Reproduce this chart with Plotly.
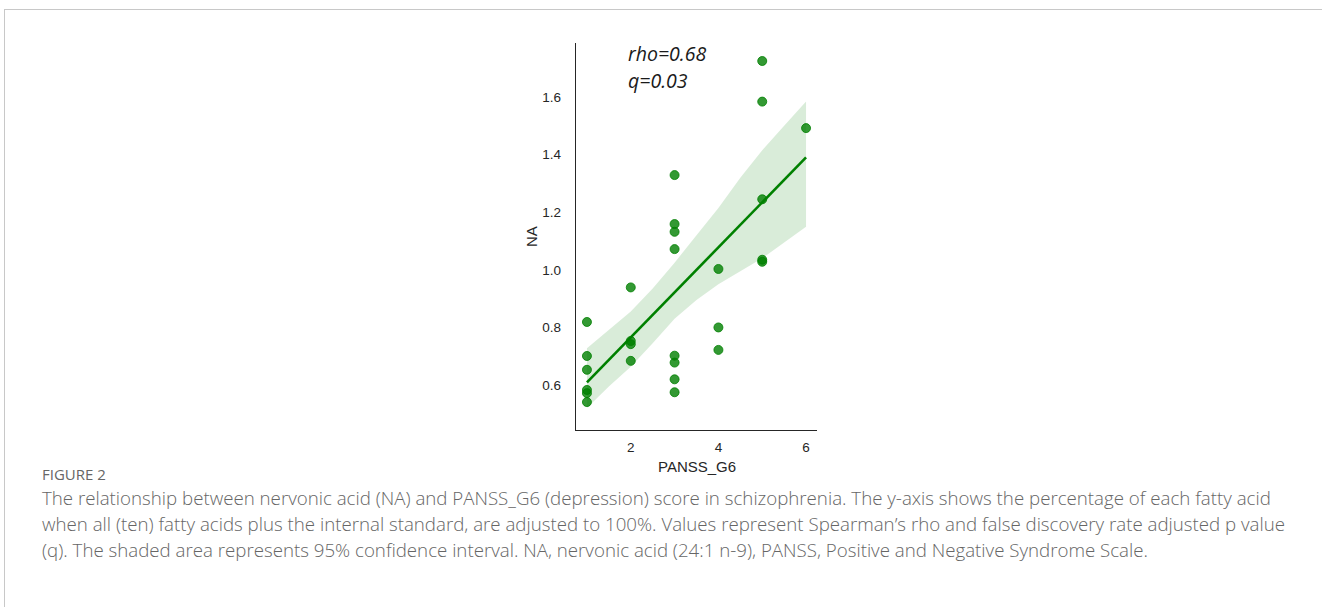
import plotly.graph_objects as go
import numpy as np

# ---- data ----
panss_g6 = [1, 1, 1, 1, 1, 1,
            2, 2, 2, 2,
            3, 3, 3, 3, 3, 3, 3, 3,
            4, 4, 4,
            5, 5, 5, 5, 5,
            6]
na_values = [0.819, 0.701, 0.653, 0.583, 0.572, 0.541,
             0.939, 0.753, 0.742, 0.684,
             1.329, 1.159, 1.132, 1.072, 0.702, 0.678, 0.620, 0.575,
             1.003, 0.800, 0.722,
             1.725, 1.584, 1.245, 1.035, 1.028,
             1.492]

# 95% CI band edges (bootstrap band)
ci_x = [1, 1.5, 2, 2.5, 3, 3.5, 4, 4.5, 5, 5.5, 6]
ci_upper = [0.728, 0.790, 0.855, 0.935, 1.025, 1.120, 1.215, 1.320, 1.415, 1.500, 1.584]
ci_lower = [0.520, 0.595, 0.664, 0.745, 0.830, 0.895, 0.950, 0.995, 1.040, 1.095, 1.150]

x_ticks = [2, 4, 6]
y_ticks = [0.6, 0.8, 1.0, 1.2, 1.4, 1.6]

stats_lines = ["rho=0.68", "q=0.03"]
caption_head = "FIGURE 2"
caption_lines = [
    "The relationship between nervonic acid (NA) and PANSS_G6 (depression) score in schizophrenia. The y-axis shows the percentage of each fatty acid",
    "when all (ten) fatty acids plus the internal standard, are adjusted to 100%. Values represent Spearman\u2019s rho and false discovery rate adjusted p value",
    "(q). The shaded area represents 95% confidence interval. NA, nervonic acid (24:1 n-9), PANSS, Positive and Negative Syndrome Scale.",
]

# ---- regression line (least squares on the data) ----
xa = np.array(panss_g6, dtype=float)
ya = np.array(na_values, dtype=float)
slope, intercept = np.polyfit(xa, ya, 1)
fit_x = [min(panss_g6), max(panss_g6)]
fit_y = [intercept + slope * v for v in fit_x]

# ---- layout geometry ----
W, H = 1322, 607
L, R, T, B = 576, 817, 43, 430


def px(xp):
    return (xp - L) / (R - L)


def py(yp):
    return (B - yp) / (B - T)


GREEN = "#008000"
SPINE = "#262626"
CAPTION = "#666666"

fig = go.Figure()

fig.add_trace(go.Scatter(
    x=ci_x + ci_x[::-1], y=ci_upper + ci_lower[::-1],
    fill="toself", fillcolor="rgba(0,128,0,0.15)",
    line=dict(width=0), mode="lines", hoverinfo="skip", showlegend=False))

fig.add_trace(go.Scatter(
    x=panss_g6, y=na_values, mode="markers",
    marker=dict(size=9, color="rgba(0,128,0,0.8)",
                line=dict(width=1, color="rgba(0,128,0,0.8)")),
    showlegend=False))

fig.add_trace(go.Scatter(
    x=fit_x, y=fit_y, mode="lines",
    line=dict(color=GREEN, width=2.6), showlegend=False))

annotations = []
for i, s in enumerate(stats_lines):
    annotations.append(dict(
        x=px(626), y=py(53 + 27 * i), xref="paper", yref="paper",
        text=f"<i>{s}</i>", showarrow=False, xanchor="left", yanchor="middle",
        font=dict(family="Open Sans", size=19.5, color="#1a1a1a")))

annotations.append(dict(
    x=px(532), y=py(237), xref="paper", yref="paper", text="NA", textangle=-90,
    showarrow=False, xanchor="center", yanchor="middle",
    font=dict(family="Liberation Sans, Arial", size=15, color=SPINE)))
annotations.append(dict(
    x=px(697), y=py(466), xref="paper", yref="paper", text="PANSS_G6",
    showarrow=False, xanchor="center", yanchor="middle",
    font=dict(family="Liberation Sans, Arial", size=15, color=SPINE)))

annotations.append(dict(
    x=px(40), y=py(474), xref="paper", yref="paper", text=caption_head,
    showarrow=False, xanchor="left", yanchor="middle",
    font=dict(family="Open Sans", size=15, color=CAPTION)))
for i, line in enumerate(caption_lines):
    annotations.append(dict(
        x=px(40), y=py(497 + 26 * i), xref="paper", yref="paper", text=line,
        showarrow=False, xanchor="left", yanchor="middle",
        font=dict(family="Open Sans", size=18.7, color=CAPTION, weight=300)))

shapes = [
    dict(type="line", xref="paper", yref="paper", x0=px(4), x1=px(1330),
         y0=py(9.5), y1=py(9.5), line=dict(color="#c8c8c8", width=1)),
    dict(type="line", xref="paper", yref="paper", x0=px(4.5), x1=px(4.5),
         y0=py(9.5), y1=py(620), line=dict(color="#c8c8c8", width=1)),
]

fig.update_layout(
    width=W, height=H,
    margin=dict(l=L, r=W - R, t=T, b=H - B, pad=0),
    paper_bgcolor="white", plot_bgcolor="white",
    annotations=annotations, shapes=shapes,
    xaxis=dict(range=[0.75, 6.25], tickvals=x_ticks, ticktext=[str(v) for v in x_ticks],
               showgrid=False, zeroline=False, showline=True, linecolor=SPINE,
               linewidth=1.4, ticks="", ticklabelstandoff=5,
               tickfont=dict(family="Liberation Sans, Arial", size=13.5, color=SPINE)),
    yaxis=dict(range=[0.444, 1.7875], tickvals=y_ticks,
               ticktext=[f"{v:.1f}" for v in y_ticks],
               showgrid=False, zeroline=False, showline=True, linecolor=SPINE,
               linewidth=1.4, ticks="", ticklabelstandoff=11,
               tickfont=dict(family="Liberation Sans, Arial", size=13.5, color=SPINE)),
)

fig.write_html("out.html", config={"displayModeBar": False},
               post_script="document.body.style.margin='0';")
